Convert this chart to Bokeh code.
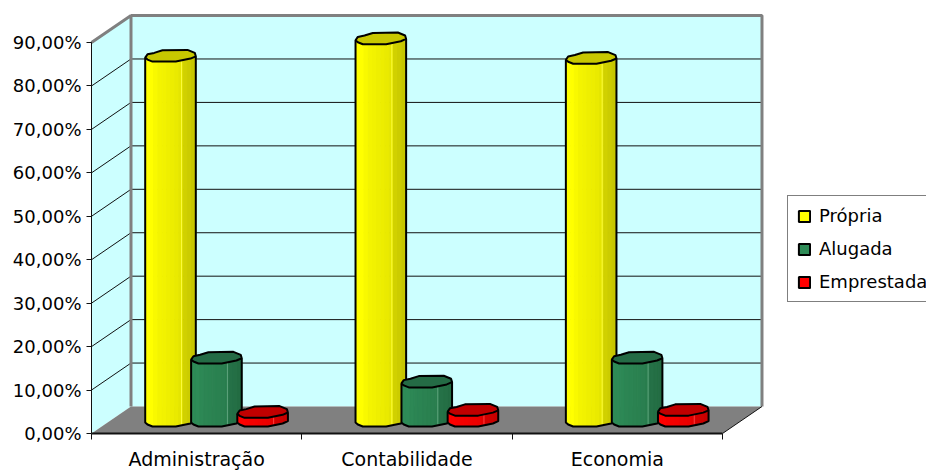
from bokeh.embed import file_html
from bokeh.resources import INLINE
from bokeh.plotting import figure
from bokeh.models import Range1d, LinearAxis, FixedTicker, Legend, LegendItem
import numpy as np

categories = ["Administração", "Contabilidade", "Economia"]
propria = [84.0, 88.0, 83.5]
alugada = [14.5, 9.0, 14.5]
emprestada = [2.0, 2.5, 2.5]
series_names = ["Própria", "Alugada", "Emprestada"]
percent_ticks = [0, 10, 20, 30, 40, 50, 60, 70, 80, 90]

# Screen scale of the chart: one category in pixels, one percentage point in pixels
PX_X = 210.33
PX_Y = 4.344
DEPTH_X = 39.5 / PX_X
DEPTH_Y = 27 / PX_Y
FONT = "DejaVu Sans"

# The plot area fills the canvas; both axes are pinned at their zero lines inside it
p = figure(width=926, height=470, output_backend="svg", toolbar_location=None,
           x_range=Range1d(-91 / PX_X, 835 / PX_X), y_range=Range1d(-37 / PX_Y, 433 / PX_Y),
           x_axis_type=None, y_axis_type=None,
           min_border_left=0, min_border_right=0, min_border_top=0, min_border_bottom=0)
p.outline_line_color = None
p.grid.visible = False
p.background_fill_color = "white"

# Walls and floor of the 3D box
n = len(categories)
wall_x = [0, DEPTH_X, DEPTH_X, 0]
wall_y = [0, DEPTH_Y, DEPTH_Y + 90, 90]
p.patch(wall_x, wall_y, fill_color="#ccffff", line_color=None)
p.patch([DEPTH_X, n + DEPTH_X, n + DEPTH_X, DEPTH_X],
        [DEPTH_Y, DEPTH_Y, DEPTH_Y + 90, DEPTH_Y + 90],
        fill_color="#ccffff", line_color=None)
p.patch([0, DEPTH_X, n + DEPTH_X, n], [0, DEPTH_Y, DEPTH_Y, 0],
        fill_color="#808080", line_color=None)

# Gridlines run along the side wall and across the back wall
grid_vals = percent_ticks[1:]
p.multi_line([[0, DEPTH_X, n + DEPTH_X] for _ in grid_vals],
             [[v, v + DEPTH_Y, v + DEPTH_Y] for v in grid_vals],
             line_color="#111111", line_width=1)
p.line([0, DEPTH_X, DEPTH_X], [90, DEPTH_Y + 90, DEPTH_Y],
       line_color="#808080", line_width=3)
p.line([DEPTH_X, n + DEPTH_X, n + DEPTH_X], [DEPTH_Y + 90, DEPTH_Y + 90, DEPTH_Y],
       line_color="#808080", line_width=3)
p.line([n, n + DEPTH_X], [0, DEPTH_Y], line_color="#111111", line_width=1)

# Faceted cylinder outline, offsets in pixels from the axis of the cylinder
cap_x = np.array([-25.3, -23, -16.3, -8, 17, 24.3, 25.3, 20, 5.3, -18, -23])
cap_y = np.array([-2, 1.3, 2.7, 5.3, 5.7, 2.7, -0.7, -3, -6, -6, -4])
front_x = np.array([-25.3, -23, -18, 5.3, 20, 25.3])
front_y = np.array([-2, -4, -6, -6, -3, -0.7])
edges = np.linspace(-25.3, 25.3, 13)
BASE_LIFT = 13 / PX_Y
shades = [1.0, 1.0, 0.98, 0.96, 0.95, 0.94, 0.93, 0.92, 0.9, 0.82, 0.8, 0.78]
body_colors = [(255, 255, 0), (46, 139, 87), (255, 0, 0)]
top_colors = ["#c8c800", "#246b45", "#c00000"]
offsets = [0.3756, 0.594, 0.8135]


def cylinder(cx, val, rgb, top):
    base = BASE_LIFT
    tip = BASE_LIFT + val
    xs, ys, cols = [], [], []
    for i, s in enumerate(shades):
        a, b = edges[i], edges[i + 1]
        ya = np.interp(a, front_x, front_y) / PX_Y
        yb = np.interp(b, front_x, front_y) / PX_Y
        xs.append([cx + a / PX_X, cx + b / PX_X, cx + b / PX_X, cx + a / PX_X])
        ys.append([base + ya, base + yb, tip + yb, tip + ya])
        cols.append("#%02x%02x%02x" % tuple(int(c * s) for c in rgb))
    p.patches(xs, ys, fill_color=cols, line_color=cols, line_width=1)
    # Thin highlight running up the shaded side
    hl = "#%02x%02x%02x" % tuple(min(255, int(c * 0.75) + 60) for c in rgb)
    p.line([cx + 11 / PX_X] * 2, [base - 4 / PX_Y, tip - 4 / PX_Y], line_color=hl, line_width=1)
    ox = cx + np.concatenate([[front_x[0]], front_x, [front_x[-1]]]) / PX_X
    oy = np.concatenate([[tip + front_y[0] / PX_Y], base + front_y / PX_Y, [tip + front_y[-1] / PX_Y]])
    p.line(ox, oy, line_color="black", line_width=2)
    p.patch(cx + cap_x / PX_X, tip + cap_y / PX_Y, fill_color=top, line_color="black", line_width=2)


for k in range(n):
    for values, off, rgb, top in zip([propria, alugada, emprestada], offsets, body_colors, top_colors):
        cylinder(k + off, values[k], rgb, top)

# Value axis: ends at the last labelled tick
yaxis = LinearAxis(ticker=FixedTicker(ticks=percent_ticks), bounds=(0, 90), fixed_location=0,
                   major_label_overrides={v: f"{v},00%" for v in percent_ticks})
yaxis.axis_line_color = "#111111"
yaxis.axis_line_width = 1
yaxis.major_tick_line_color = "#111111"
yaxis.major_tick_out = 5
yaxis.major_tick_in = 0
yaxis.minor_tick_line_color = None
yaxis.major_label_text_font = FONT
yaxis.major_label_text_font_size = "18px"
yaxis.major_label_text_color = "black"
yaxis.major_label_standoff = 5
p.add_layout(yaxis, "left")

# Category axis: labels centred in each slot, tick marks on the slot boundaries
xaxis = LinearAxis(ticker=FixedTicker(ticks=[i + 0.5 for i in range(n)],
                                      minor_ticks=list(range(n + 1))),
                   bounds=(0, n), fixed_location=0,
                   major_label_overrides={i + 0.5: c for i, c in enumerate(categories)})
xaxis.axis_line_color = "#111111"
xaxis.axis_line_width = 2
xaxis.major_tick_line_color = None
xaxis.minor_tick_line_color = "#111111"
xaxis.minor_tick_out = 6
xaxis.minor_tick_in = 0
xaxis.major_label_text_font = FONT
xaxis.major_label_text_font_size = "19px"
xaxis.major_label_text_color = "black"
xaxis.major_label_standoff = 8
p.add_layout(xaxis, "below")

# Legend swatches come from quads in the series colours that plot nothing themselves
items = []
for name, rgb in zip(series_names, body_colors):
    swatch = p.quad(left=[np.nan], right=[np.nan], top=[np.nan], bottom=[np.nan],
                    fill_color="#%02x%02x%02x" % rgb, line_color="black", line_width=2)
    items.append(LegendItem(label=name, renderers=[swatch]))
legend = Legend(items=items, location=(787, 168), border_line_color="black", border_line_width=1,
                background_fill_color="white", background_fill_alpha=1,
                label_text_font=FONT, label_text_font_size="18px", label_text_color="black",
                glyph_width=14, glyph_height=14, spacing=12, margin=0,
                padding=9, label_standoff=8)
p.add_layout(legend, "center")

open("out.html", "w").write(file_html(p, INLINE))
